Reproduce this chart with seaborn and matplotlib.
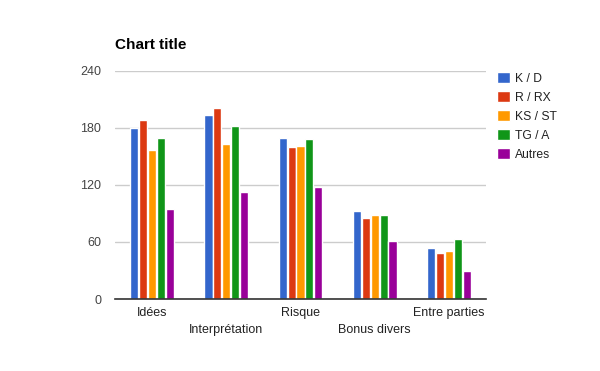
import matplotlib
matplotlib.use("Agg")
import matplotlib.pyplot as plt
import seaborn as sns
import pandas as pd

categories = ["Idées", "Interprétation", "Risque", "Bonus divers", "Entre parties"]
series = ["K / D", "R / RX", "KS / ST", "TG / A", "Autres"]
kd = [180, 194, 169, 93, 54]
rrx = [188, 201, 160, 85, 48]
ksst = [157, 163, 161, 88, 51]
tga = [169, 182, 168, 88, 63]
autres = [95, 113, 118, 61, 30]
colors = ["#3366cc", "#dc3912", "#ff9900", "#109618", "#990099"]
yticks = [0, 60, 120, 180, 240]

rows = []
for s, vals in zip(series, [kd, rrx, ksst, tga, autres]):
    for c, v in zip(categories, vals):
        rows.append({"cat": c, "series": s, "value": v})
df = pd.DataFrame(rows)

sns.set_theme(style="white")
plt.rcParams["font.family"] = ["Liberation Sans", "DejaVu Sans"]

fig = plt.figure(figsize=(6, 3.71), dpi=100)
ax = fig.add_axes([115/600, 1 - 299/371, (486 - 115)/600, (299 - 71)/371])

sns.barplot(data=df, x="cat", y="value", hue="series", order=categories,
            hue_order=series, palette=colors, width=0.6, gap=0.08,
            saturation=1, ax=ax, legend=True)

ax.set_ylim(0, 240)
ax.set_yticks(yticks)
ax.set_xlim(-0.5, len(categories) - 0.5)
ax.yaxis.grid(True, color="#cccccc", linewidth=1)
ax.set_axisbelow(True)
for sp in ["top", "right", "left"]:
    ax.spines[sp].set_visible(False)
ax.spines["bottom"].set_color("#333333")
ax.spines["bottom"].set_linewidth(1.2)
ax.set_xlabel("")
ax.set_ylabel("")
ax.tick_params(axis="both", length=0, labelsize=9, labelcolor="#222222")
ax.tick_params(axis="y", pad=10, labelcolor="#444444")
for i, t in enumerate(ax.xaxis.get_major_ticks()):
    t.set_pad(6 if i % 2 == 0 else 18)

handles, labels = ax.get_legend_handles_labels()
ax.legend(handles, labels, loc="upper left",
          bbox_to_anchor=(486/600, 1 - 61/371), bbox_transform=fig.transFigure,
          frameon=False, handlelength=1.05, handleheight=1.05, handletextpad=0.45,
          labelspacing=0.52, fontsize=8.7, labelcolor="#222222")

fig.text(115/600, 1 - 49/371, "Chart title", fontsize=11, fontweight="bold",
         color="#000000", va="baseline", ha="left")

fig.savefig("out.png", dpi=100, facecolor="white")
